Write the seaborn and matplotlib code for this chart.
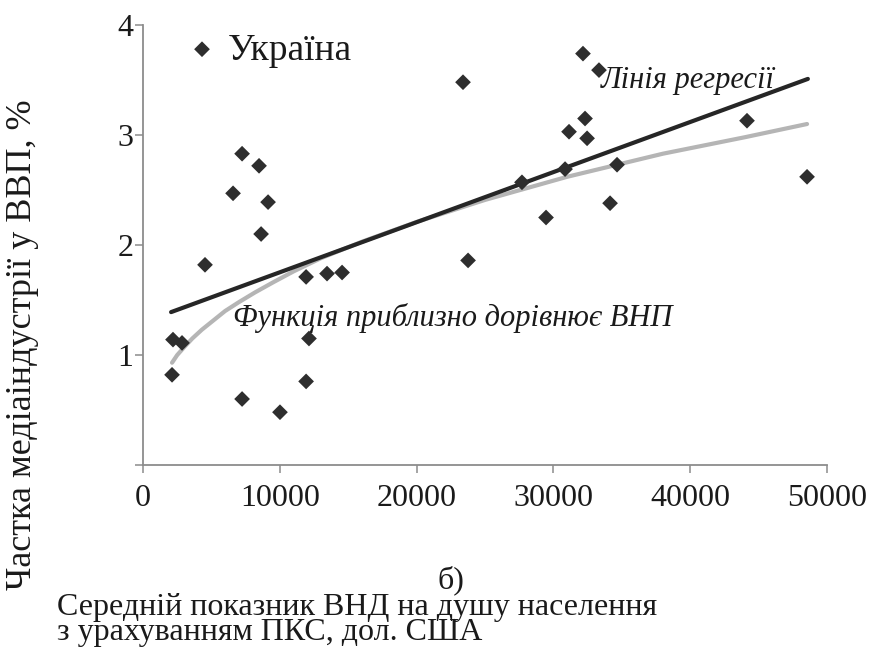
import numpy as np
import pandas as pd
import matplotlib
matplotlib.use("Agg")
import matplotlib.pyplot as plt
import seaborn as sns

# GNI per capita (PPP, USD) and media industry share of GDP (%)
gni = [4310, 7240, 8480, 6580, 9140, 8630, 4530, 2190, 2850, 2120,
       7240, 10010, 11920, 12130, 11920, 13450, 14550, 23390, 23760, 27700,
       29460, 30850, 31140, 32160, 32310, 32460, 33330, 34140, 34650, 44150,
       48540]
share = [3.78, 2.83, 2.72, 2.47, 2.39, 2.10, 1.82, 1.14, 1.11, 0.82,
         0.60, 0.48, 0.76, 1.15, 1.71, 1.74, 1.75, 3.48, 1.86, 2.57,
         2.25, 2.69, 3.03, 3.74, 3.15, 2.97, 3.59, 2.38, 2.73, 3.13,
         2.62]

# linear regression line (end points)
reg_x = [2050, 48600]
reg_y = [1.39, 3.51]

# power trend curve
pow_x = [2120, 2500, 3000, 3600, 4300, 5100, 6000, 7000, 8200, 9500,
         11000, 13000, 16000, 20000, 25000, 31000, 38000, 44000, 48540]
pow_y = [0.93, 1.00, 1.07, 1.15, 1.23, 1.31, 1.40, 1.48, 1.57, 1.66,
         1.76, 1.88, 2.03, 2.21, 2.41, 2.62, 2.83, 2.98, 3.10]

x_ticks = [0, 10000, 20000, 30000, 40000, 50000]
y_ticks = [0, 1, 2, 3, 4]
y_ticklabels = ["", "1", "2", "3", "4"]

df = pd.DataFrame({"gni": gni, "share": share})
reg = pd.DataFrame({"gni": reg_x, "share": reg_y})
pw = pd.DataFrame({"gni": pow_x, "share": pow_y})

sns.set_theme(style="white")
plt.rcParams["font.family"] = ["Liberation Serif", "DejaVu Serif"]

fig = plt.figure(figsize=(8.69, 6.48), dpi=100)
ax = fig.add_axes([0.1646, 0.2824, 0.9517 - 0.1646, 0.9614 - 0.2824])

sns.lineplot(data=pw, x="gni", y="share", ax=ax, color="#b5b5b5",
             linewidth=3.0, zorder=2, sort=True)
sns.lineplot(data=reg, x="gni", y="share", ax=ax, color="#262626",
             linewidth=3.0, zorder=3)
sns.scatterplot(data=df, x="gni", y="share", ax=ax, marker="D", s=64,
                color="#2e2e2e", edgecolor="none", zorder=4)

ax.set_xlim(0, 50000)
ax.set_ylim(0, 4)
ax.set_xticks(x_ticks)
ax.set_xticklabels([str(t) for t in x_ticks])
ax.set_yticks(y_ticks)
ax.set_yticklabels(y_ticklabels)
ax.set_xlabel("")
ax.set_ylabel("")

for side in ["top", "right"]:
    ax.spines[side].set_visible(False)
for side in ["left", "bottom"]:
    ax.spines[side].set_color("#8c8c8c")
    ax.spines[side].set_linewidth(1.3)

ax.tick_params(axis="both", which="major", direction="out", length=6,
               width=1.1, color="#8c8c8c", labelsize=23, labelcolor="#1a1a1a",
               bottom=True, left=True)
ax.tick_params(axis="x", pad=8)
ax.tick_params(axis="y", pad=1)

ax.text(6210, 3.77, "Україна", fontsize=27, va="center", ha="left",
        color="#1a1a1a")
ax.text(33480, 3.50, "Лінія регресії", fontsize=22, style="italic",
        va="center", ha="left", color="#1a1a1a")
ax.text(6580, 1.34, "Функція приблизно дорівнює ВНП", fontsize=22,
        style="italic", va="center", ha="left", color="#1a1a1a")

fig.text(0.026, 0.468, "Частка медіаіндустрії у ВВП, %", rotation=90,
         fontsize=26, va="center", ha="center", color="#1a1a1a")
fig.text(0.519, 0.105, "б)", fontsize=23, va="center", ha="center",
         color="#1a1a1a")
fig.text(0.066, 0.002,
         "Середній показник ВНД на душу населення\nз урахуванням ПКС, дол. США",
         fontsize=23, va="bottom", ha="left", linespacing=0.82,
         color="#1a1a1a")

fig.savefig("out.png", dpi=100, facecolor="white")
